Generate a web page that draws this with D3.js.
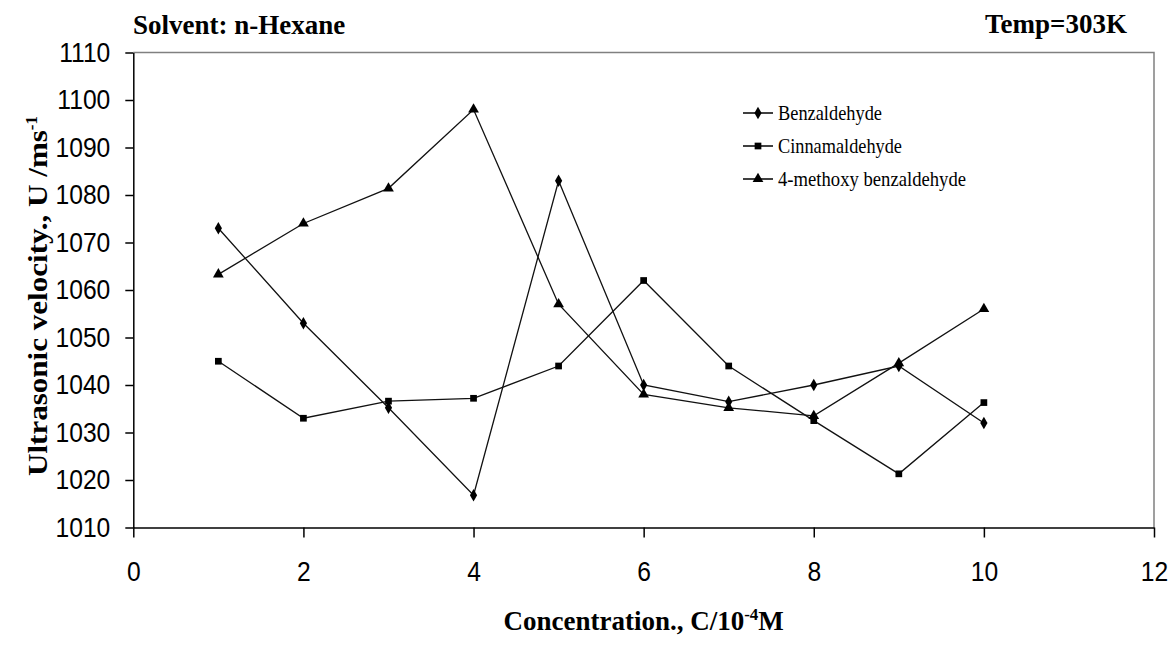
<!DOCTYPE html>
<html>
<head>
<meta charset="utf-8">
<script src="https://cdn.jsdelivr.net/npm/d3@7"></script>
<style>
  body { margin: 0; background: #fff; }
  svg { display: block; }
</style>
</head>
<body>
<script>
var concentration = [1, 2, 3, 4, 5, 6, 7, 8, 9, 10];
var benzaldehyde   = [1073, 1053, 1035.2, 1016.8, 1083, 1040, 1036.5, 1040, 1044, 1032];
var cinnamaldehyde = [1045, 1033, 1036.6, 1037.2, 1044, 1062, 1044, 1032.5, 1021.3, 1036.3];
var methoxyBenz    = [1063.3, 1074, 1081.4, 1098, 1057, 1038, 1035.2, 1033.5, 1044.6, 1056];
var seriesNames = ["Benzaldehyde", "Cinnamaldehyde", "4-methoxy benzaldehyde"];
var xTicks = [0, 2, 4, 6, 8, 10, 12];
var yTicks = [1010, 1020, 1030, 1040, 1050, 1060, 1070, 1080, 1090, 1100, 1110];

var W = 1169, H = 646;
var plotL = 133.3, plotR = 1154, plotT = 52.5, plotB = 527.5;
var serif = "'Liberation Serif', 'Times New Roman', serif";
var sans = "'Liberation Sans', Arial, sans-serif";

var svg = d3.select("body").append("svg").attr("width", W).attr("height", H);

var x = d3.scaleLinear().domain([0, 12]).range([plotL, plotR]);
var y = d3.scaleLinear().domain([1010, 1110]).range([plotB, plotT]);

// squeeze a text horizontally by a factor
function squeeze(sel, f) {
  sel.each(function(){
    var w = this.getComputedTextLength();
    d3.select(this).attr("textLength", w * f).attr("lengthAdjust", "spacingAndGlyphs");
  });
}

// gray frame on top and right
svg.append("path")
   .attr("d", "M" + plotL + "," + plotT + "H" + plotR + "V" + plotB)
   .attr("fill", "none").attr("stroke", "#808080").attr("stroke-width", 1.5);

var yAxis = svg.append("g")
   .attr("transform", "translate(" + plotL + ",0)")
   .call(d3.axisLeft(y).tickValues(yTicks).tickSize(8).tickSizeOuter(0).tickPadding(15).tickFormat(d3.format("d")));

var xAxis = svg.append("g")
   .attr("transform", "translate(0," + plotB + ")")
   .call(d3.axisBottom(x).tickValues(xTicks).tickSize(10).tickSizeOuter(0).tickPadding(24).tickFormat(d3.format("d")));

[yAxis, xAxis].forEach(function(ax){
  ax.select(".domain").attr("stroke", "#000").attr("stroke-width", 1.5);
  ax.selectAll(".tick line").attr("stroke", "#000").attr("stroke-width", 1.5);
  ax.selectAll("text")
    .attr("font-family", sans).attr("font-size", 28).attr("fill", "#000")
    .call(squeeze, 0.88);
});

// series
var allSeries = [benzaldehyde, cinnamaldehyde, methoxyBenz];
var markerTypes = [d3.symbolDiamond, d3.symbolSquare, d3.symbolTriangle];
var markerSizes = [45, 45, 50];

var line = d3.line()
   .x(function(d, i){ return x(concentration[i]); })
   .y(function(d){ return y(d); });

allSeries.forEach(function(vals, s){
  svg.append("path")
     .attr("fill", "none")
     .attr("stroke", "#111")
     .attr("stroke-width", 1.3)
     .attr("d", line(vals));

  svg.selectAll("path.m" + s)
     .data(vals)
     .enter().append("path")
       .attr("class", "m" + s)
       .attr("transform", function(d, i){ return "translate(" + x(concentration[i]) + "," + y(d) + ")"; })
       .attr("d", d3.symbol().type(markerTypes[s]).size(markerSizes[s]))
       .attr("fill", "#000");
});

// legend
var legendY = [113, 146, 179];
var legendW = [104, 124, 188];
seriesNames.forEach(function(name, s){
  var g = svg.append("g").attr("transform", "translate(743," + legendY[s] + ")");
  g.append("line").attr("x1", 0).attr("x2", 30).attr("y1", 0).attr("y2", 0)
   .attr("stroke", "#000").attr("stroke-width", 1.5);
  g.append("path").attr("transform", "translate(15,0)")
   .attr("d", d3.symbol().type(markerTypes[s]).size(markerSizes[s])).attr("fill", "#000");
  g.append("text").attr("x", 35).attr("y", 7)
   .attr("font-family", serif).attr("font-size", 21)
   .attr("textLength", legendW[s]).attr("lengthAdjust", "spacingAndGlyphs")
   .text(name);
});

// titles
svg.append("text").attr("x", 133).attr("y", 34)
   .attr("font-family", serif).attr("font-size", 27).attr("font-weight", "bold")
   .text("Solvent: n-Hexane");
svg.append("text").attr("x", 1127).attr("y", 33).attr("text-anchor", "end")
   .attr("font-family", serif).attr("font-size", 27).attr("font-weight", "bold")
   .text("Temp=303K");

var xt = svg.append("text").attr("x", (plotL + plotR) / 2).attr("y", 630).attr("text-anchor", "middle")
   .attr("font-family", serif).attr("font-size", 27).attr("font-weight", "bold");
xt.append("tspan").text("Concentration., C/10");
xt.append("tspan").attr("dy", -10).attr("font-size", 17).text("-4");
xt.append("tspan").attr("dy", 10).text("M");

var yt = svg.append("text").attr("transform", "translate(47," + 296 + ") rotate(-90)")
   .attr("text-anchor", "middle")
   .attr("font-family", serif).attr("font-size", 27).attr("font-weight", "bold");
yt.append("tspan").text("Ultrasonic velocity., U /ms").call(squeeze, 1.15);
yt.append("tspan").attr("dy", -10).attr("font-size", 17).text("-1");
</script>
</body>
</html>
